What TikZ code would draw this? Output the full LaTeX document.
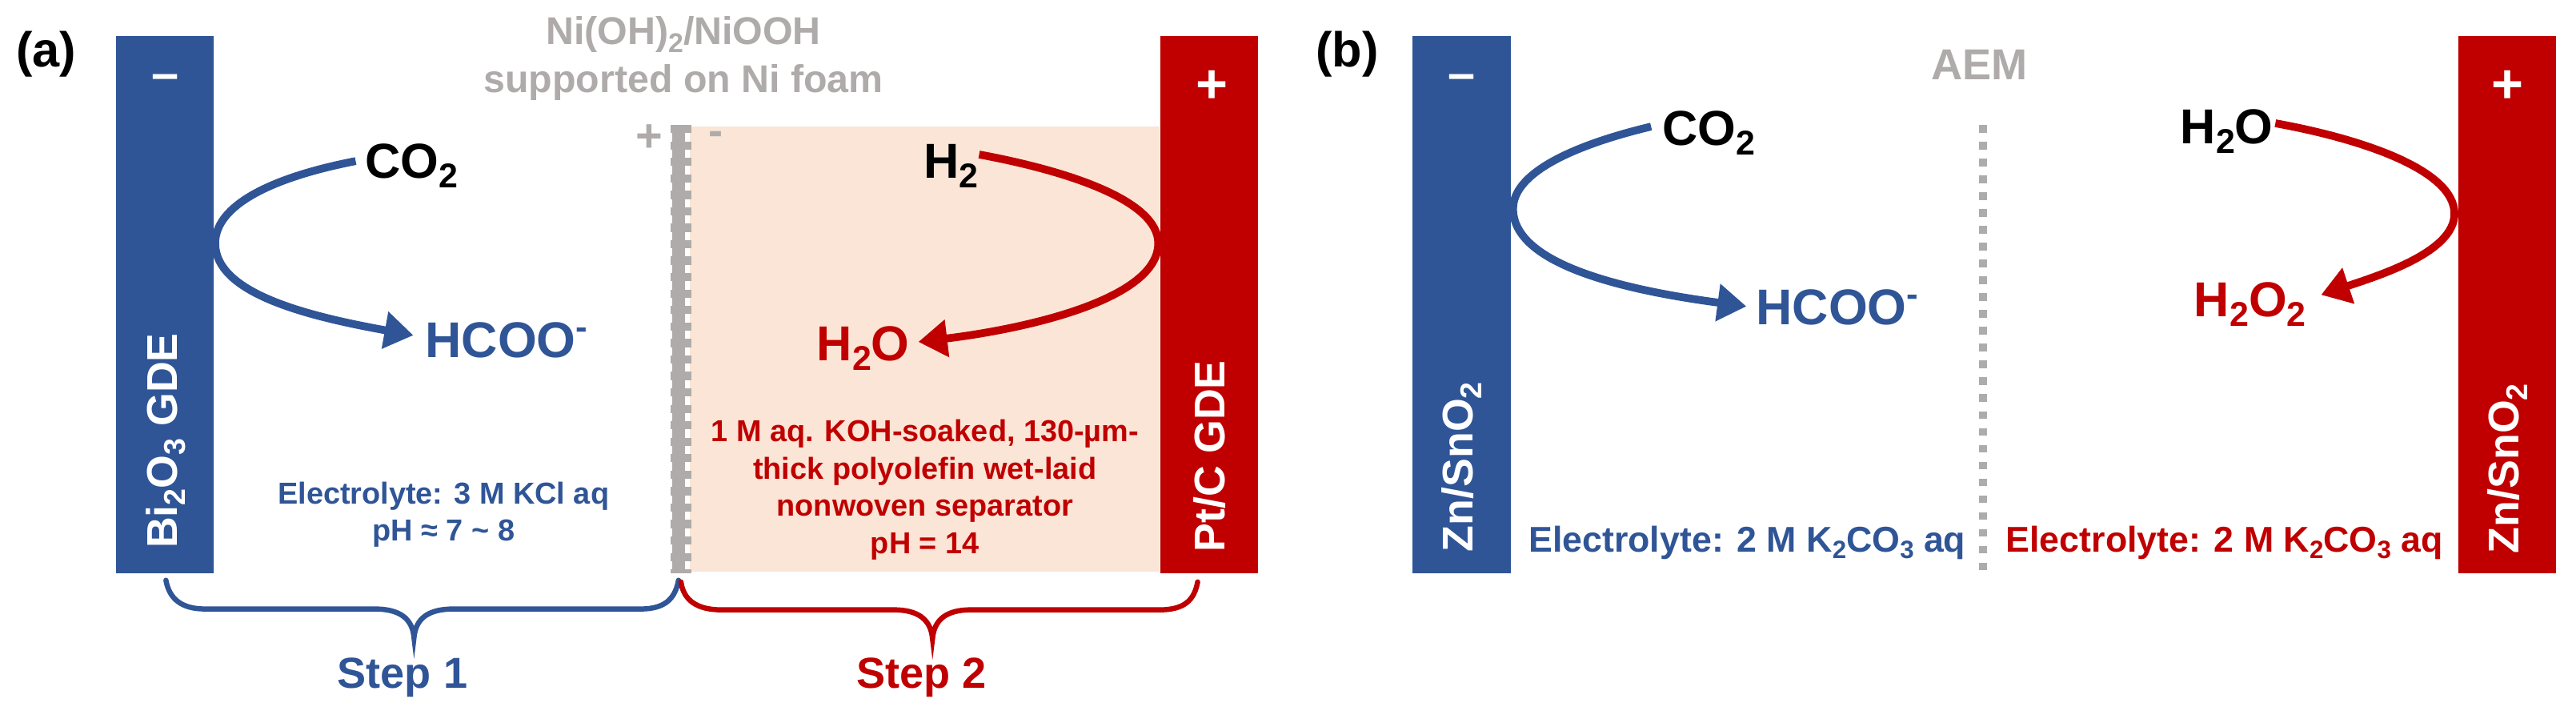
\documentclass[tikz,border=0pt]{standalone}
\usepackage{graphicx}
\usepackage{fontspec}
\setmainfont{Liberation Sans}[BoldFont={Liberation Sans Bold}]
\usetikzlibrary{arrows.meta}
\definecolor{bblue}{HTML}{2F5597}
\definecolor{rred}{HTML}{C00000}
\definecolor{ggray}{HTML}{AFABAB}
\definecolor{peach}{HTML}{FBE5D6}
\newcommand\sbs[1]{\raisebox{-0.2em}{\scalebox{0.7}{#1}}}
\tikzset{
  lab/.style={font=\bfseries\fontsize{#1}{12.9}\selectfont,inner sep=0pt,align=center},
  lab/.default=17,
  barbox/.style={draw=none,inner sep=0pt,minimum width=1.19cm,minimum height=6.54cm,fill=#1},
  react/.style={line width=2.7pt,-{Triangle[length=10pt,width=12.5pt]}},
  brc/.style={line width=1.8pt,line cap=round},
}
\begin{document}
\begin{tikzpicture}[x=0.02cm,y=-0.02cm]
\useasboundingbox (0,0) rectangle (1568,442);
% ---- panel a
\fill[peach] (420,77) rectangle (706,348);
\node[barbox=bblue] (bara) at (100.3,185.5) {};
\node[barbox=rred] (barb) at (736,185.5) {};
\node[lab=17] (la) at (28,33) {(a)};
\node[lab=17,white] (ma) at (100.5,50) {–};
\node[lab=19,white] (pb) at (737.5,53) {+};
\node[lab=14.9,white,rotate=90,anchor=west] (tbi) at (101,334) {Bi\sbs{2}O\sbs{3} GDE};
\node[lab=14.9,white,rotate=90,anchor=west] (tpt) at (736.5,336) {Pt/C GDE};
\node[lab=13.4,ggray,anchor=center] (tni1) at (416,21) {Ni(OH)\sbs{2}/NiOOH};
\node[lab=13.4,ggray,anchor=center] (tni2) at (416,50) {supported on Ni foam};
% electrode
\coordinate (eT) at (413,76);
\coordinate (eB) at (413,349);
\coordinate (fT) at (414.5,76);
\coordinate (fB) at (414.5,349);
\draw[ggray,line width=4.6pt] (eT) -- (eB);
\draw[ggray,line width=7.4pt,dash pattern=on 2.85pt off 2.85pt] (fT) -- (fB);
\node[lab=16,ggray] (ep) at (395,84) {+};
\node[lab=15,ggray] (em) at (435.5,84) {-};
% reactions a
\node[lab=17,anchor=west] (co2a) at (222,101) {CO\sbs{2}};
\node[lab=17.4,bblue,anchor=west] (hca) at (258.5,207) {HCOO\textsuperscript{-}};
\node[lab=17,anchor=east] (h2a) at (596,101) {H\sbs{2}};
\node[lab=17,rred,anchor=east] (h2oa) at (554,212) {H\sbs{2}O};
\coordinate (ca1) at (216.5,98); \coordinate (ca2) at (131,148); \coordinate (ca3) at (251.6,204);
\draw[react,bblue] (ca1) .. controls (165,108) and (131,125) .. (ca2) .. controls (131,178) and (185,192) .. (ca3);
\coordinate (ra1) at (596,94); \coordinate (ra2) at (705,148); \coordinate (ra3) at (559,208);
\draw[react,rred] (ra1) .. controls (650,104) and (705,122) .. (ra2) .. controls (705,182) and (625,200) .. (ra3);
\node[lab=10.5,bblue] (ela) at (270,313) {Electrolyte: 3 M KCl aq\\pH ≈ 7 \textasciitilde{} 8};
\node[lab=10.5,rred] (sep) at (563,298) {1 M aq. KOH-soaked, 130-µm-\\thick polyolefin wet-laid\\nonwoven separator\\pH = 14};
% braces
\coordinate (b1s) at (101,353); \coordinate (b1e) at (413,353); \coordinate (b1p) at (252,388);
\draw[brc,bblue] (b1s) .. controls (103,364) and (110,370.5) .. (125,370.5) -- (228,370.5) .. controls (243,370.5) and (251,376) .. (b1p) .. controls (253,376) and (261,370.5) .. (276,370.5) -- (390,370.5) .. controls (405,370.5) and (411,364) .. (b1e);
\coordinate (b2s) at (414.5,354); \coordinate (b2e) at (729,354); \coordinate (b2p) at (567.6,388.6);
\draw[brc,rred] (b2s) .. controls (416,365) and (424,371) .. (439,371) -- (544,371) .. controls (559,371) and (566.6,377) .. (b2p) .. controls (568.6,377) and (576,371) .. (591,371) -- (706,371) .. controls (721,371) and (727,365) .. (b2e);
\node[lab=15,bblue] (s1) at (245,412) {Step 1};
\node[lab=15,rred] (s2) at (561,412) {Step 2};
% ---- panel b
\node[barbox=bblue] (barc) at (889.7,185.5) {};
\node[barbox=rred] (bard) at (1526,185.5) {};
\node[lab=17] (lb) at (820,33) {(b)};
\node[lab=17,white] (mc) at (889.5,50) {–};
\node[lab=19,white] (pd) at (1526.5,53) {+};
\node[lab=14.9,white,rotate=90,anchor=west] (tzn1) at (889.6,336) {Zn/SnO\sbs{2}};
\node[lab=14.9,white,rotate=90,anchor=west] (tzn2) at (1526.5,337) {Zn/SnO\sbs{2}};
\node[lab=15,ggray] (taem) at (1205,39.5) {AEM};
\coordinate (aT) at (1207,76);
\coordinate (aB) at (1207,348);
\draw[ggray,line width=2.7pt,dash pattern=on 2.7pt off 3.13pt] (aT) -- (aB);
\node[lab=17,anchor=west] (co2b) at (1011.4,81) {CO\sbs{2}};
\node[lab=17.4,bblue,anchor=west] (hcb) at (1068.6,187) {HCOO\textsuperscript{-}};
\node[lab=17,anchor=east] (h2ob) at (1384,80) {H\sbs{2}O};
\node[lab=17,rred,anchor=east] (h2o2) at (1404,185) {H\sbs{2}O\sbs{2}};
\coordinate (cb1) at (1005,77); \coordinate (cb2) at (921,127); \coordinate (cb3) at (1063,186.4);
\draw[react,bblue] (cb1) .. controls (955,89) and (921,106) .. (cb2) .. controls (921,160) and (985,176) .. (cb3);
\coordinate (rb1) at (1385,75); \coordinate (rb2) at (1494,130); \coordinate (rb3) at (1412.8,179.4);
\draw[react,rred] (rb1) .. controls (1440,85) and (1494,104) .. (rb2) .. controls (1494,153) and (1450,167) .. (rb3);
\node[lab=12.4,bblue] (elb) at (1063.5,330) {Electrolyte: 2 M K\sbs{2}CO\sbs{3} aq};
\node[lab=12.4,rred] (elc) at (1354,330) {Electrolyte: 2 M K\sbs{2}CO\sbs{3} aq};
\end{tikzpicture}
\end{document}
